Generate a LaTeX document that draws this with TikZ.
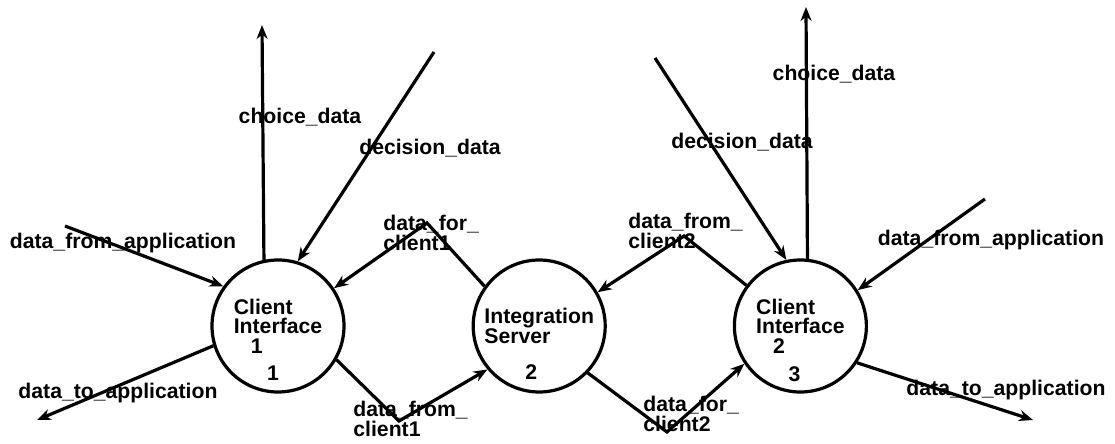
\documentclass[tikz,border=0pt]{standalone}
\usepackage{fontspec}
\setmainfont{Liberation Sans}
\usetikzlibrary{positioning,arrows.meta}
\tikzstyle{proc}=[circle, draw=black, line width=1.6pt, minimum size=66pt, inner sep=0pt,
align=left, font=\bfseries\fontsize{10.6}{9.8}\selectfont]
\tikzstyle{pnum}=[inner sep=0pt, font=\bfseries\fontsize{10.6}{12}\selectfont]
\tikzstyle{lbl}=[inner sep=0pt, align=left, font=\bfseries\fontsize{10.6}{9.8}\selectfont]
\tikzstyle{flow}=[-{Stealth[length=7pt,width=5.5pt]}, line width=1.6pt]

\begin{document}
\begin{tikzpicture}[x=0.5pt, y=-0.5pt]
    \useasboundingbox (0,0) rectangle (1115,444);

    \node (ci1) [proc] at (278,326) {Client\\Interface\\\hspace*{8.5pt}1};
    \node (srv) [proc, right=63pt of ci1] {Integration\\Server};
    \node (ci2) [proc, right=63pt of srv] {Client\\Interface\\\hspace*{8.5pt}2};

    \node (ci1n) [pnum, below=20pt of ci1.center, xshift=-2.5pt] {1};
    \node (srvn) [pnum, below=19pt of srv.center, xshift=-4pt] {2};
    \node (ci2n) [pnum, below=20pt of ci2.center, xshift=-3pt] {3};

%free ends and bends
    \coordinate (ci1choice) at (262,25);
    \coordinate (ci1dec) at (434,52);
    \coordinate (ci1appin) at (65,226);
    \coordinate (ci1appout) at (37,420);
    \coordinate (fc1) at (427,223);
    \coordinate (tc1) at (399,421);
    \coordinate (tc2) at (684,236);
    \coordinate (fc2) at (667,432);
    \coordinate (ci2dec) at (655,58);
    \coordinate (ci2choice) at (806,7);
    \coordinate (ci2appin) at (985,199);
    \coordinate (ci2appout) at (1033,420);

   \draw[flow] (ci1.102) -- (ci1choice);
   \draw[flow] (ci1dec) -- (ci1.73);
   \draw[flow] (ci1appin) -- (ci1.144);
   \draw[flow] (ci1.197) -- (ci1appout);

   \draw[flow] (srv.144) -- (fc1) -- (ci1.34);
   \draw[flow] (ci1.330) -- (tc1) -- (srv.220);
   \draw[flow] (ci2.143) -- (tc2) -- (srv.30);
   \draw[flow] (srv.316) -- (fc2) -- (ci2.214);

   \draw[flow] (ci2dec) -- (ci2.102);
   \draw[flow] (ci2.84) -- (ci2choice);
   \draw[flow] (ci2appin) -- (ci2.32);
   \draw[flow] (ci2.327) -- (ci2appout);

%labels
    \node (l1choice) [lbl] at (300,117) {choice\_data};
    \node (l1dec) [lbl] at (430,148) {decision\_data};
    \node (l1in) [lbl] at (123,243) {data\_from\_application};
    \node (l1out) [lbl] at (118,393) {data\_to\_application};
    \node (lfc1) [lbl, anchor=west] at (383,233) {data\_for\_\\client1};
    \node (ltc1) [lbl, anchor=west] at (353,419) {data\_from\_\\client1};
    \node (ltc2) [lbl, anchor=west] at (628,231) {data\_from\_\\client2};
    \node (lfc2) [lbl, anchor=west] at (643,414) {data\_for\_\\client2};
    \node (l2dec) [lbl] at (742,142) {decision\_data};
    \node (l2choice) [lbl] at (834,74) {choice\_data};
    \node (l2in) [lbl] at (991,240) {data\_from\_application};
    \node (l2out) [lbl] at (1006,390) {data\_to\_application};

\end{tikzpicture}
\end{document}
